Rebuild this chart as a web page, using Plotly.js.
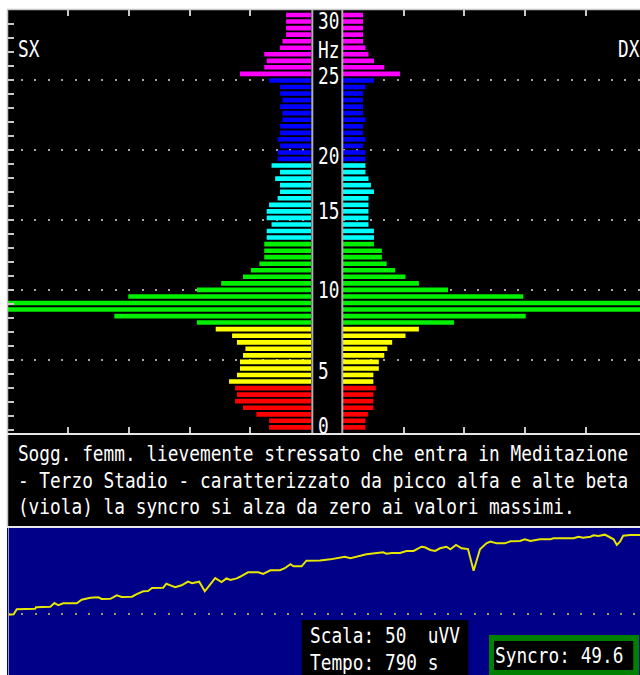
<!DOCTYPE html>
<html>
<head>
<meta charset="utf-8">
<script src="https://cdn.plot.ly/plotly-3.0.1.min.js"></script>
<style>
  html, body { margin: 0; padding: 0; background: #ffffff; }
  #chart { width: 640px; height: 675px; }
  /* tall, narrow terminal-style lettering */
  #chart .annotation text { transform-box: fill-box; transform-origin: 50% 50%; }
  #chart .annotation.tall text { transform: scaleY(1.32); }
  #chart .annotation.body text { transform: scaleY(1.18); }
</style>
</head>
<body>
<div id="chart"></div>
<script>
// Spectral bins (Hz), from the lowest to the highest
const freqHz = [
  0.21, 0.68, 1.14, 1.61, 2.08, 2.55, 3.01, 3.48, 3.95, 4.41,
  4.88, 5.35, 5.82, 6.28, 6.75, 7.22, 7.69, 8.15, 8.62, 9.09,
  9.55, 10.02, 10.49, 10.96, 11.42, 11.89, 12.36, 12.82, 13.29, 13.76,
  14.23, 14.69, 15.16, 15.63, 16.09, 16.56, 17.03, 17.50, 17.96, 18.43,
  18.90, 19.37, 19.83, 20.30, 20.77, 21.23, 21.70, 22.17, 22.64, 23.10,
  23.57, 24.04, 24.50, 24.97, 25.44, 25.91, 26.37, 26.84, 27.31, 27.77,
  28.24, 28.71, 29.18, 29.64
];

// Amplitude per bin, left hemisphere (SX), same order as freqHz
const ampSX = [
  6.9, 6.9, 9.0, 11.2, 12.5, 12.2, 12.5,
  13.5, 12.2, 11.7, 11.7, 11.2, 10.8, 12.2, 13.0, 15.7,
  18.8, 32.4, 62, 56, 30.1, 18.8, 14.8, 11.2, 9.9, 8.5, 7.7, 7.7, 7.7,
  7.3, 7.3, 6.5, 7.3, 7.3, 6.9, 5.5, 5.1, 5.1, 5.9, 5.1, 6.5,
  5.5, 5.5, 5.1, 5.5, 5.1, 5.1, 4.7, 4.7, 5.1, 4.7, 5.1, 5.1, 6.9,
  11.7, 7.7, 7.3, 7.7, 5.1, 4.7, 4.1, 4.1, 4.1, 4.1
];

// Amplitude per bin, right hemisphere (DX)
const ampDX = [
  3.7, 3.7, 4.1, 5.0, 5.0, 5.0, 5.4,
  5.0, 5.0, 5.9, 5.9, 6.8, 7.3, 8.1, 10.3, 12.5,
  18.3, 30.1, 58, 60, 29.7, 17.3, 12.5, 10.3, 8.6, 7.2, 6.4, 6.4, 5.1,
  5.1, 5.1, 4.2, 4.2, 4.2, 4.2, 4.2, 5.1, 4.6, 4.2, 3.7, 3.7,
  3.7, 3.7, 3.3, 3.7, 3.3, 3.3, 3.7, 3.3, 3.3, 3.3, 3.3, 3.7, 5.1,
  9.4, 6.8, 5.1, 4.2, 3.7, 3.3, 3.3, 3.3, 3.3, 3.3
];

// Band limits (Hz) and colours: delta, theta, alfa, beta 1, beta 2, beta alte (viola)
const bandEdgesHz = [3.3, 7.45, 13.5, 19.1, 25.2];
const bandColors = ['#ff0000', '#ffff00', '#00f000', '#00ffff', '#0000ff', '#ff00ff'];

// Synchronisation index over the session
const syncroTime = [
  0, 7, 11, 34, 35, 53, 58, 63, 69, 86,
  92, 103, 113, 117, 128, 136, 142, 155, 161, 169,
  175, 180, 194, 198, 203, 209, 217, 225, 230, 239,
  246, 259, 267, 273, 278, 286, 290, 300, 313, 319,
  328, 340, 346, 353, 357, 367, 373, 390, 403, 415,
  421, 428, 448, 469, 473, 480, 490, 498, 507, 513,
  517, 521, 528, 534, 540, 548, 553, 560, 567, 575,
  582, 586, 590, 598, 603, 611, 621, 628, 640, 646,
  653, 665, 678, 682, 707, 713, 719, 728, 732, 738,
  746, 750, 757, 761, 765, 769, 778, 790
];
const syncroValue = [
  -0.8, -0.5, 2.7, 3.0, 3.9, 4.3, 6.6, 5.2, 6.4, 6.4,
  8.7, 10.0, 10.2, 9.2, 9.3, 11.5, 10.4, 10.6, 12.3, 14.0,
  14.2, 16.1, 16.3, 18.8, 17.8, 16.6, 17.8, 20.1, 19.1, 20.1,
  14.0, 22.4, 19.9, 22.2, 21.2, 22.2, 23.2, 26.0, 26.0, 25.0,
  27.3, 27.3, 28.6, 31.1, 29.8, 29.8, 33.4, 33.5, 34.2, 35.5,
  35.9, 34.9, 37.4, 38.7, 37.8, 38.2, 38.2, 39.5, 39.5, 41.2,
  42.2, 41.8, 40.1, 39.5, 41.2, 42.2, 40.6, 43.3, 41.2, 40.7,
  27.0, 33.8, 40.6, 44.3, 45.4, 44.3, 44.3, 45.6, 45.8, 46.9,
  45.8, 46.9, 46.9, 47.5, 47.5, 48.5, 47.9, 48.5, 49.4, 49.0,
  49.8, 48.8, 46.9, 43.3, 45.4, 49.1, 49.6, 49.6
];

// Texts
const hzLabels = ['30', 'Hz', '25', '20', '15', '10', '5', '0'];
const sideLabels = ['SX', 'DX'];
const noteLines = [
  'Sogg. femm. lievemente stressato che entra in Meditazione',
  '- Terzo Stadio - caratterizzato da picco alfa e alte beta',
  '(viola) la syncro si alza da zero ai valori massimi.'
];
const scalaUv = 50;
const tempoS = 790;
const syncroNow = 49.6;
const ampTicks = [10, 20, 30, 40];
const hzGrid = [5, 10, 15, 20, 25];

// ---- page geometry, in pixels ----
const W = 640, H = 675;
const fx = p => p / W;
const fy = p => 1 - p / H;

const G = {
  left: 7.5, midL: 311, midR: 343, right: 640,
  top: 10, specBottom: 433, blueTop: 528.5, bottom: 675
};
const unitPx = (G.midL - G.left) / scalaUv;          // px per amplitude unit
const hzPx = 14.01, hzZeroPx = 430.3;                // vertical frequency scale
const yRange = [(hzZeroPx - G.specBottom) / hzPx, (hzZeroPx - G.top) / hzPx];
const syncroZeroPx = 613.5, syncroPx = 1.583;
const y3Range = [-(G.bottom - syncroZeroPx) / syncroPx, (syncroZeroPx - G.blueTop) / syncroPx];

const colorFor = f => {
  let i = 0;
  while (i < bandEdgesHz.length && f >= bandEdgesHz[i]) i++;
  return bandColors[i];
};
const barColors = freqHz.map(colorFor);

const barCommon = {
  type: 'bar', orientation: 'h', y: freqHz, width: 0.33,
  marker: { color: barColors, line: { width: 0 } },
  hoverinfo: 'skip'
};

const traces = [
  Object.assign({}, barCommon, { x: ampSX, xaxis: 'x', yaxis: 'y' }),
  Object.assign({}, barCommon, { x: ampDX, xaxis: 'x2', yaxis: 'y' }),
  {
    type: 'scatter', mode: 'lines', x: syncroTime, y: syncroValue,
    xaxis: 'x3', yaxis: 'y3', line: { color: '#e6e600', width: 2 },
    hoverinfo: 'skip'
  }
];

const tickStyle = { ticks: 'inside', ticklen: 6, tickwidth: 2, tickcolor: '#c8c8c8' };
const ampAxis = Object.assign({
  anchor: 'y', tickmode: 'array', tickvals: ampTicks, mirror: 'ticks',
  showticklabels: false, showgrid: false, zeroline: false, showline: false,
  fixedrange: true
}, tickStyle);

const rectPx = (x0, y0, x1, y1, fill, layer) => ({
  type: 'rect', xref: 'paper', yref: 'paper',
  x0: fx(x0), x1: fx(x1), y0: fy(y1), y1: fy(y0),
  fillcolor: fill, line: { width: 0 }, layer: layer
});
const linePx = (x0, y0, x1, y1, color, w) => ({
  type: 'line', xref: 'paper', yref: 'paper',
  x0: fx(x0), x1: fx(x1), y0: fy(y0), y1: fy(y1),
  line: { color: color, width: w }, layer: 'above'
});

const mono = 'DejaVu Sans Mono, Liberation Mono, monospace';
const note = (text, x, y, extra) => Object.assign({
  text: text, xref: 'paper', yref: 'paper', x: fx(x), y: fy(y),
  xanchor: 'left', yanchor: 'middle', showarrow: false, borderpad: 0,
  font: { family: mono, size: 17.8, color: '#ffffff' }
}, extra || {});

const hzLabelPx = [20.5, 49.5, 75.8, 155.8, 210, 289.5, 370.5, 425];
const annotations = [];
hzLabels.forEach((t, i) => annotations.push(note(t, 316.7, hzLabelPx[i])));
annotations.push(note(sideLabels[0], 16.7, 48.3));
annotations.push(note(sideLabels[1], 616.7, 48.3));
const tallCount = annotations.length;
noteLines.forEach((t, i) => annotations.push(note(t, 16.7, 453.3 + i * 26.7)));
annotations.push(note('Scala: ' + scalaUv + '\u00a0 uVV', 309, 635.5));
annotations.push(note('Tempo: ' + tempoS + ' s', 309, 662.5));
annotations.push(note('Syncro: ' + syncroNow.toFixed(1), 494, 655.5));

const layout = {
  width: W, height: H,
  margin: { l: 0, r: 0, t: 0, b: 0, pad: 0 },
  paper_bgcolor: '#ffffff',
  plot_bgcolor: 'rgba(0,0,0,0)',
  showlegend: false,
  barmode: 'overlay',
  xaxis: Object.assign({}, ampAxis, {
    domain: [fx(G.left), fx(G.midL)], range: [scalaUv, 0]
  }),
  xaxis2: Object.assign({}, ampAxis, {
    domain: [fx(G.midR), 1], range: [0, (G.right - G.midR) / unitPx]
  }),
  yaxis: Object.assign({
    domain: [fy(G.specBottom), fy(G.top)], range: yRange, anchor: 'x',
    tickmode: 'array', tickvals: hzGrid,
    showgrid: true, gridcolor: '#a8a8a8', gridwidth: 2, griddash: '2px,11.4px',
    minor: {
      tickmode: 'linear', tick0: 0, dtick: 1, ticks: 'inside', ticklen: 6,
      tickwidth: 2, tickcolor: '#c8c8c8', showgrid: false
    },
    showticklabels: false, zeroline: false, showline: false, fixedrange: true
  }, tickStyle),
  xaxis3: {
    domain: [fx(8), 1], range: [0, tempoS], anchor: 'y3',
    showgrid: false, zeroline: false, showline: false, showticklabels: false, ticks: ''
  },
  yaxis3: {
    domain: [0, fy(G.blueTop)], range: y3Range, anchor: 'x3',
    tickmode: 'array', tickvals: [0], ticks: '', showticklabels: false,
    showgrid: true, gridcolor: '#a0a050', gridwidth: 2, griddash: '2px,11.3px',
    zeroline: false, showline: false
  },
  shapes: [
    rectPx(7, 9, 640, 434, '#000000', 'below'),
    rectPx(7, 434, 640, 527, '#000000', 'below'),
    rectPx(7, 527, 640, 675, '#000088', 'below'),
    linePx(7, 9.5, 640, 9.5, '#c8c8c8', 1.5),
    linePx(7.5, 9, 7.5, 527, '#c8c8c8', 1.5),
    linePx(7, 434, 640, 434, '#e6e6e6', 2),
    linePx(7, 527, 640, 527, '#e6e6e6', 2),
    linePx(312.3, 10, 312.3, 433, '#b0b0b0', 2),
    linePx(342.3, 10, 342.3, 433, '#b0b0b0', 2),
    linePx(8.5, 528, 8.5, 675, '#9a9acc', 1),
    rectPx(301.7, 620, 468.3, 675, '#000000', 'above'),
    rectPx(489, 635, 639, 675, '#008000', 'above'),
    rectPx(494, 641, 633.3, 670, '#000000', 'above')
  ],
  annotations: annotations
};

Plotly.newPlot('chart', traces, layout, { staticPlot: true, displayModeBar: false })
  .then(gd => {
    gd.querySelectorAll('.annotation').forEach(el => {
      const i = Number(el.getAttribute('data-index'));
      el.classList.add(i < tallCount ? 'tall' : 'body');
    });
  });
</script>
</body>
</html>
